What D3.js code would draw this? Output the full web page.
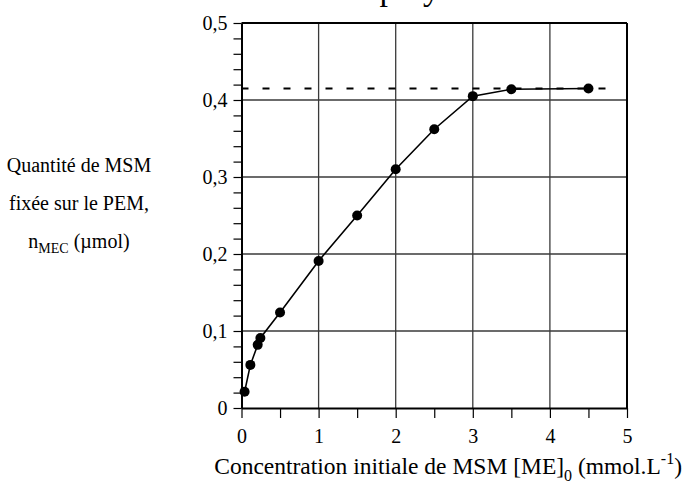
<!DOCTYPE html>
<html>
<head>
<meta charset="utf-8">
<script src="https://cdn.jsdelivr.net/npm/d3@7"></script>
<style>
  body { margin: 0; background: #fff; }
  svg { font-family: "Liberation Serif", "Times New Roman", serif; }
</style>
</head>
<body>
<script>
// values
let concentration = [0.04, 0.115, 0.21, 0.245, 0.5, 1, 1.5, 2, 2.5, 3, 3.5, 4.5];
let quantite = [0.021, 0.056, 0.082, 0.091, 0.124, 0.191, 0.25, 0.31, 0.362, 0.405, 0.414, 0.415];
let plateau = 0.415, plateauEnd = 4.8;
let xTicks = [0, 0.5, 1, 1.5, 2, 2.5, 3, 3.5, 4, 4.5, 5];
let yTicks = d3.range(0, 0.5001, 0.02);
let xGrid = [1, 2, 3, 4], yGrid = [0.1, 0.2, 0.3, 0.4];

let width = 685, height = 488;

let x = d3.scaleLinear().domain([0, 5]).range([241.5, 627]);
let y = d3.scaleLinear().domain([0, 0.5]).range([408, 23]);

let fr = d3.formatLocale({decimal: ",", thousands: " ", grouping: [3], currency: ["", ""]});
let fmt = fr.format(".1f");

const svg = d3.select("body").append("svg")
    .attr("width", width)
    .attr("height", height);

// title, cut off at the top of the picture
svg.append("text")
    .attr("x", 508).attr("y", 0)
    .style("text-anchor", "end")
    .style("font-size", "34px")
    .text("Fixation du MSM sur le polymère");

// grid
svg.selectAll(".vgrid").data(xGrid).enter().append("line")
    .attr("x1", d => x(d)).attr("x2", d => x(d))
    .attr("y1", y(0)).attr("y2", y(0.5))
    .attr("stroke", "#3a3a3a").attr("stroke-width", 1.3);
svg.selectAll(".hgrid").data(yGrid).enter().append("line")
    .attr("x1", x(0)).attr("x2", x(5))
    .attr("y1", d => y(d)).attr("y2", d => y(d))
    .attr("stroke", "#3a3a3a").attr("stroke-width", 1.3);

// frame top / right
svg.append("line").attr("x1", x(0)).attr("x2", x(5)).attr("y1", y(0.5)).attr("y2", y(0.5))
    .attr("stroke", "#000").attr("stroke-width", 2);
svg.append("line").attr("x1", x(5)).attr("x2", x(5)).attr("y1", y(0)).attr("y2", y(0.5))
    .attr("stroke", "#000").attr("stroke-width", 2);

// axes
let xAxis = d3.axisBottom(x).tickValues(xTicks).tickSize(10).tickSizeOuter(0)
    .tickFormat(d => Number.isInteger(d) ? d : "");
let yAxis = d3.axisLeft(y).tickValues(yTicks).tickSize(8).tickSizeOuter(0)
    .tickFormat(d => {
        let r = Math.round(d * 100);
        if (r % 10 !== 0) return "";
        return r === 0 ? "0" : fmt(d);
    });

let gx = svg.append("g").attr("transform", `translate(0,${y(0)})`).call(xAxis);
let gy = svg.append("g").attr("transform", `translate(${x(0)},0)`).call(yAxis);

[gx, gy].forEach(g => {
    g.select(".domain").attr("stroke", "#000").attr("stroke-width", 2);
    g.selectAll(".tick line").attr("stroke", "#000").attr("stroke-width", 1.2);
    g.selectAll("text").style("font-size", "20px").attr("fill", "#000")
        .style("font-family", "Liberation Serif, serif");
});
gx.selectAll("text").attr("y", 21);
gy.selectAll("text").attr("x", -14);

// plateau dashed line
svg.append("line")
    .attr("x1", x(0)).attr("x2", x(plateauEnd))
    .attr("y1", y(plateau)).attr("y2", y(plateau))
    .attr("stroke", "#000").attr("stroke-width", 2)
    .attr("stroke-dasharray", "7,14");

// curve and points
let pts = concentration.map((c, i) => [c, quantite[i]]);
svg.append("path")
    .datum(pts)
    .attr("fill", "none").attr("stroke", "#000").attr("stroke-width", 1.6)
    .attr("d", d3.line().x(d => x(d[0])).y(d => y(d[1])));

svg.selectAll(".dot").data(pts).enter().append("circle")
    .attr("class", "dot")
    .attr("cx", d => x(d[0])).attr("cy", d => y(d[1]))
    .attr("r", 5).attr("fill", "#000");

// y label
let yl = svg.append("text").style("font-size", "20px").style("text-anchor", "middle");
yl.append("tspan").attr("x", 79).attr("y", 172).text("Quantité de MSM");
yl.append("tspan").attr("x", 79).attr("y", 210).text("fixée sur le PEM,");
let l3 = yl.append("tspan").attr("x", 79).attr("y", 248);
l3.append("tspan").text("n");
l3.append("tspan").attr("dy", 5).style("font-size", "14px").text("MEC");
l3.append("tspan").attr("dy", -5).text(" (µmol)");

// x label
let xl = svg.append("text").attr("x", 682).attr("y", 474)
    .style("font-size", "23.5px").style("text-anchor", "end");
xl.append("tspan").text("Concentration initiale de MSM [ME]");
xl.append("tspan").attr("dy", 7).style("font-size", "16px").text("0");
xl.append("tspan").attr("dy", -7).text(" (mmol.L");
xl.append("tspan").attr("dy", -10).style("font-size", "16px").text("-1");
xl.append("tspan").attr("dy", 10).text(")");
</script>
</body>
</html>
